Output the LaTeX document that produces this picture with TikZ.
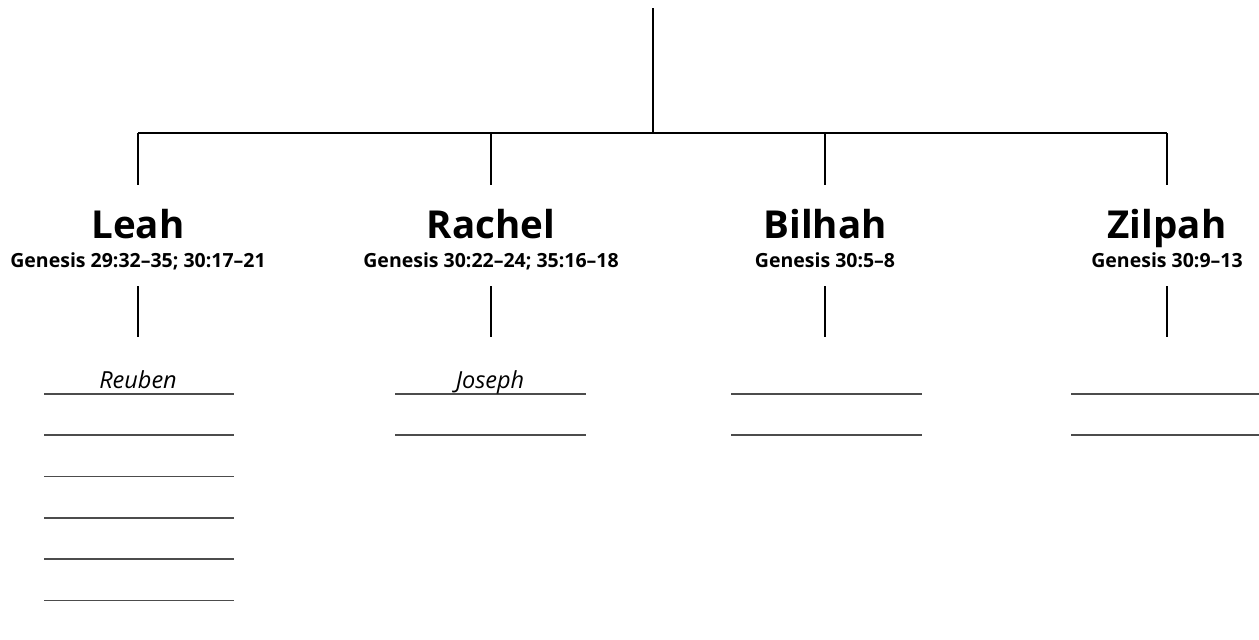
\documentclass[tikz,border=0pt]{standalone}
\usepackage{fontspec}
\setmainfont{Open Sans}
\begin{document}
\begin{tikzpicture}[x=1pt,y=-1pt,
  conn/.style={line width=1.7pt,black},
  blank/.style={line width=1.2pt,black!70},
  wifename/.style={font=\fontsize{38.5}{38.5}\selectfont\bfseries,anchor=base,inner xsep=0pt,inner ysep=22pt,text height=31pt,text depth=0pt},
  wiferef/.style={font=\fontsize{19.5}{19.5}\selectfont\bfseries,anchor=base,inner xsep=0pt,inner ysep=19pt,text height=13pt,text depth=0pt},
  sonname/.style={font=\fontsize{23.5}{23.5}\selectfont\itshape,anchor=base,inner sep=0pt}]
\useasboundingbox (0,0) rectangle (1259,640);
\clip (0,0) rectangle (1259,640);
% top line and bar
\coordinate (top) at (653,8);
\coordinate (hub) at (653,133);
\coordinate (bl) at (138,133);
\coordinate (bra) at (491,133);
\coordinate (bb) at (825,133);
\coordinate (bz) at (1167,133);
% wives
\node[wifename] (leah) at (138,238) {Leah};
\node[wifename] (rachel) at (491,238) {Rachel};
\node[wifename] (bilhah) at (825,238) {Bilhah};
\node[wifename] (zilpah) at (1167,238) {Zilpah};
\node[wiferef] (leahref) at (138,267) {Genesis 29:32–35; 30:17–21};
\node[wiferef] (rachelref) at (491,267) {Genesis 30:22–24; 35:16–18};
\node[wiferef] (bilhahref) at (825,267) {Genesis 30:5–8};
\node[wiferef] (zilpahref) at (1167,267) {Genesis 30:9–13};
\coordinate (leahlow) at (138,337);
\coordinate (rachellow) at (491,337);
\coordinate (bilhahlow) at (825,337);
\coordinate (zilpahlow) at (1167,337);
% connectors
\draw[conn] (top) -- (hub);
\draw[conn] (bl) -- (bz);
\draw[conn] (bl) -- (leah.north);
\draw[conn] (bra) -- (rachel.north);
\draw[conn] (bb) -- (bilhah.north);
\draw[conn] (bz) -- (zilpah.north);
\draw[conn] (leahref.south) -- (leahlow);
\draw[conn] (rachelref.south) -- (rachellow);
\draw[conn] (bilhahref.south) -- (bilhahlow);
\draw[conn] (zilpahref.south) -- (zilpahlow);
% blanks
\foreach \y in {394,435,476.5,518,559,600.5} \draw[blank] (44,\y) -- (234,\y);
\foreach \y in {394,435} {
  \draw[blank] (395,\y) -- (586,\y);
  \draw[blank] (731,\y) -- (922,\y);
  \draw[blank] (1071,\y) -- (1262,\y);
}
\node[sonname] (reuben) at (138,388) {Reuben};
\node[sonname] (joseph) at (490,388) {Joseph};
\end{tikzpicture}
\end{document}
